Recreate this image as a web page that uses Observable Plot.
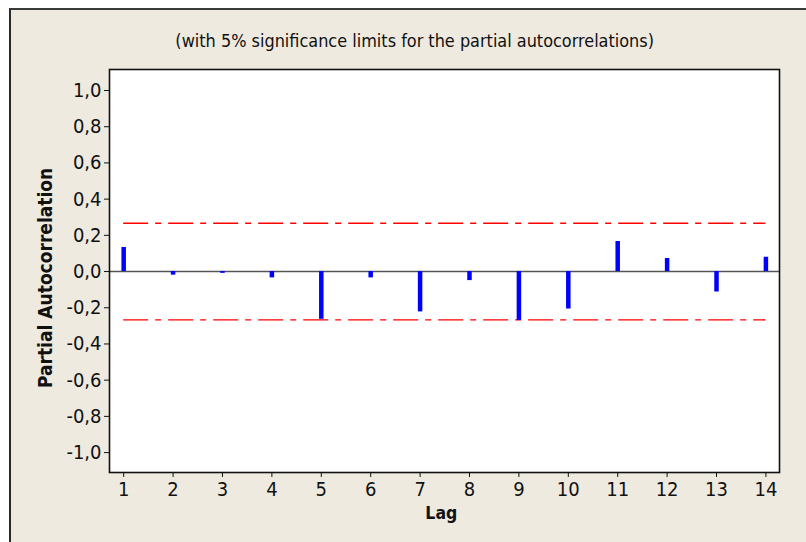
<!DOCTYPE html>
<html>
<head>
<meta charset="utf-8">
<script src="https://cdn.jsdelivr.net/npm/d3@7"></script>
<script src="https://cdn.jsdelivr.net/npm/@observablehq/plot@0.6"></script>
<style>
  html, body { margin: 0; padding: 0; background: #ffffff; width: 806px; height: 542px; overflow: hidden; }
  #panel { position: absolute; left: 9px; top: 8px; width: 820px; height: 560px;
           background: #EEEAE0; border-top: 2px solid #3a3a3a; border-left: 2px solid #2a2a2a; }
  #chart { position: absolute; left: 0; top: 0; }
  #chart svg { background: transparent; overflow: visible; }
</style>
</head>
<body>
<div id="panel"></div>
<div id="chart"></div>
<script>
const lags = [1, 2, 3, 4, 5, 6, 7, 8, 9, 10, 11, 12, 13, 14];
const pacf = [0.133, -0.02, -0.01, -0.035, -0.264, -0.035, -0.223, -0.05, -0.27, -0.207, 0.166, 0.072, -0.113, 0.079];
const sigLimit = 0.267;
const yTicks = [-1.0, -0.8, -0.6, -0.4, -0.2, 0.0, 0.2, 0.4, 0.6, 0.8, 1.0];
const titleText = "(with 5% significance limits for the partial autocorrelations)";
const xLabel = "Lag";
const yLabel = "Partial Autocorrelation";

const data = lags.map((l, i) => ({lag: l, pacf: pacf[i]}));
const limits = [sigLimit, -sigLimit].map(v => ({x1: lags[0], x2: lags[lags.length - 1], y: v}));
const fmt = d => (d < 0 ? "-" : "") + Math.abs(d).toFixed(1).replace(".", ",");

const baseFont = "Tahoma, 'DejaVu Sans Condensed', 'DejaVu Sans', sans-serif";
const boldFont = "Tahoma, 'DejaVu Sans Condensed', 'DejaVu Sans', sans-serif";

const chart = Plot.plot({
  width: 806,
  height: 542,
  marginLeft: 109,
  marginRight: 27,
  marginTop: 69,
  marginBottom: 70,
  style: {fontFamily: baseFont, fontSize: "17px", color: "#111", background: "transparent"},
  x: {domain: [0.713, 14.275]},
  y: {domain: [-1.11, 1.116]},
  marks: [
    Plot.frame({fill: "white"}),
    Plot.ruleY([0], {stroke: "#555", strokeWidth: 1.6}),
    Plot.ruleY(limits, {x1: "x1", x2: "x2", y: "y", stroke: "#ff0000", strokeWidth: 1.4, strokeDasharray: "25,7,6,7"}),
    Plot.ruleX(data, {x: "lag", y1: 0, y2: "pacf", stroke: "#0000ff", strokeWidth: 4.5}),
    Plot.frame({stroke: "#111", strokeWidth: 1.6}),
    Plot.axisX(lags, {tickSize: 5, tickPadding: 4, tickFormat: d => String(d), label: null, fontSize: 20}),
    Plot.axisY(yTicks, {tickSize: 5, tickPadding: 3, tickFormat: fmt, label: null, fontSize: 20}),
    Plot.text([titleText], {frameAnchor: "top", x: 6.89, dy: -35, fontSize: 17.9, fill: "#111"}),
    Plot.text([xLabel], {frameAnchor: "bottom", x: 7.43, dy: 46, fontSize: 17.5, fontWeight: "bold", fontFamily: boldFont, fill: "#111"}),
    Plot.text([yLabel], {frameAnchor: "left", y: -0.035, dx: -64, rotate: -90, textAnchor: "middle", fontSize: 19, fontWeight: "bold", fontFamily: boldFont, fill: "#111"})
  ]
});
d3.select(chart).selectAll('g[aria-label="x-axis tick label"], g[aria-label="y-axis tick label"]')
  .style("font-size", "20px");
document.getElementById("chart").appendChild(chart);
</script>
</body>
</html>
